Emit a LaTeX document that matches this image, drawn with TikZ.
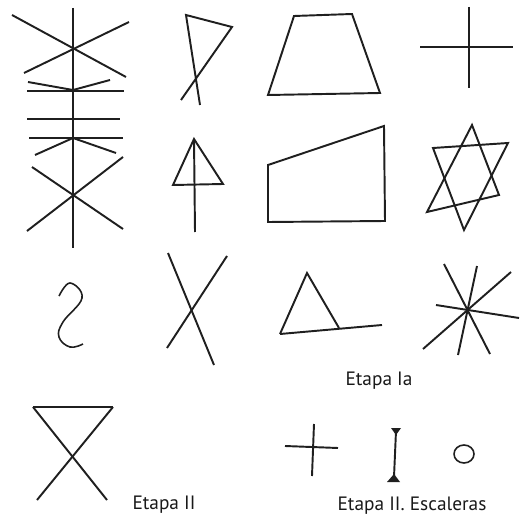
\documentclass[tikz,border=0pt]{standalone}
\usepackage{fontspec}
\setsansfont{PT Sans}
\usepackage{tikz}
\usetikzlibrary{positioning}

\begin{document}
\begin{tikzpicture}[
  x=0.02cm, y=-0.02cm,
  glyph/.style={draw=black!88, line width=1.1pt, line join=miter},
  caption/.style={font=\sffamily\fontsize{11}{13}\selectfont, text=black!90, inner sep=0pt}
]
  \useasboundingbox (0,0) rectangle (524,517);

  % row 1
  \draw[glyph] (73,8) -- (73,248);
  \draw[glyph] (12,15) -- (126,77);
  \draw[glyph] (129,22) -- (24,73);
  \draw[glyph] (28,82) -- (73,90) -- (110,80);
  \draw[glyph] (27,91) -- (124,91);
  \draw[glyph] (27,119) -- (120,119);
  \draw[glyph] (29,138) -- (123,138);
  \draw[glyph] (35,155) -- (73,138) -- (116,153);
  \draw[glyph] (32,167) -- (123,229);
  \draw[glyph] (123,157) -- (27,231);

  \draw[glyph] (181,100) -- (232,27) -- (186,15) -- (200,105);
  \draw[glyph] (294,16) -- (352,14) -- (380,93) -- (268,95) -- cycle;
  \draw[glyph] (469,7) -- (469,88);
  \draw[glyph] (420,47) -- (513,47);

  % row 2
  \draw[glyph] (194,139) -- (173,185) -- (223,184) -- cycle;
  \draw[glyph] (194,139) -- (195,232);
  \draw[glyph] (268,165) -- (384,126) -- (385,221) -- (268,222) -- cycle;
  \draw[glyph] (472,125) -- (499,195) -- (427,212) -- cycle;
  \draw[glyph] (433,148) -- (508,143) -- (464,230) -- cycle;

  % row 3
  \draw[glyph, line width=0.9pt] plot[smooth, tension=0.7] coordinates
    {(59,296) (70,283) (82,298) (63,322) (59,337) (70,347) (83,344)};
  \draw[glyph] (168,253) -- (214,365);
  \draw[glyph] (227,256) -- (167,348);
  \draw[glyph] (280,334) -- (307,273) -- (339,328);
  \draw[glyph] (280,334) -- (382,325);
  \draw[glyph] (444,264) -- (490,354);
  \draw[glyph] (477,266) -- (458,355);
  \draw[glyph] (511,272) -- (423,349);
  \draw[glyph] (436,305) -- (519,318);
  \node[caption] (etapaIa) at (379,381) {Etapa Ia};

  % row 4
  \draw[glyph] (33,407) -- (113,407);
  \draw[glyph] (33,407) -- (107,500);
  \draw[glyph] (113,407) -- (37,500);
  \node[caption] (etapaII) at (164,505) {Etapa II};

  \draw[glyph] (285,446) -- (338,448);
  \draw[glyph] (314,424) -- (312,476);
  \draw[glyph] (396,431) -- (394,477);
  \fill[black!88] (391,428) -- (401,428) -- (396,435) -- cycle;
  \fill[black!88] (387,482) -- (400,482) -- (394,474) -- cycle;
  \draw[glyph, line width=0.9pt] (464,454) ellipse [x radius=10, y radius=9];
  \node[caption] (escaleras) at (412,506) {Etapa II. Escaleras};
\end{tikzpicture}
\end{document}
